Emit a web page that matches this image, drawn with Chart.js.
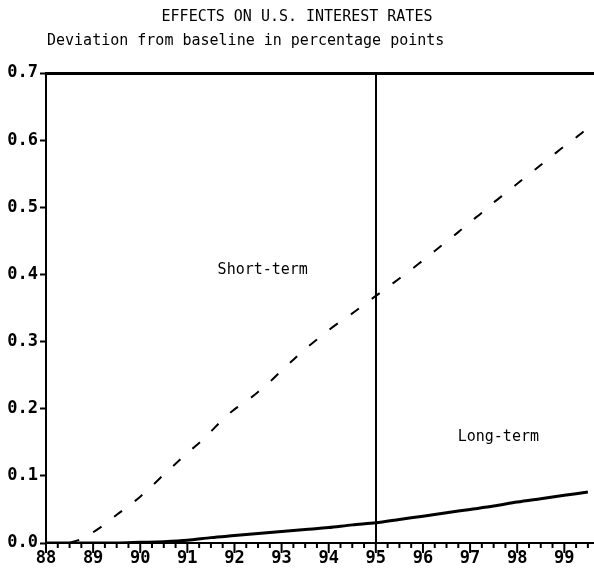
<!DOCTYPE html>
<html>
<head>
<meta charset="utf-8">
<title>Effects on U.S. interest rates</title>
<style>
  html, body { margin: 0; padding: 0; background: #fff; }
  #wrap { width: 594px; height: 585px; }
</style>
</head>
<body>
<div id="wrap"><canvas id="chart" width="594" height="585"></canvas></div>
<script src="https://cdn.jsdelivr.net/npm/chart.js@4/dist/chart.umd.min.js"></script>
<script>
const chartTitle = "EFFECTS ON U.S. INTEREST RATES";
const chartSubtitle = "Deviation from baseline in percentage points";

// short-term rate, quarterly from 88.5
const shortYears = [
  88.5, 88.75, 89, 89.25, 89.5, 89.75, 90, 90.25, 90.5, 90.75,
  91, 91.25, 91.5, 91.75, 92, 92.25, 92.5, 92.75, 93, 93.25,
  93.5, 93.75, 94, 94.25, 94.5, 94.75, 95, 95.25, 95.5, 95.75,
  96, 96.25, 96.5, 96.75, 97, 97.25, 97.5, 97.75, 98, 98.25,
  98.5, 98.75, 99, 99.25, 99.5
];
const shortTerm = [
  0.000, 0.006, 0.016, 0.028, 0.042, 0.055, 0.069, 0.085, 0.102, 0.118,
  0.134, 0.149, 0.166, 0.184, 0.199, 0.211, 0.225, 0.240, 0.257, 0.273,
  0.289, 0.303, 0.317, 0.330, 0.342, 0.355, 0.368, 0.381, 0.394, 0.407,
  0.421, 0.435, 0.449, 0.463, 0.478, 0.492, 0.507, 0.521, 0.535, 0.549,
  0.563, 0.577, 0.591, 0.604, 0.618
];

// long-term rate, half-yearly from 88
const longYears = [
  88, 88.5, 89, 89.5, 90, 90.5, 91, 91.5, 92, 92.5, 93, 93.5,
  94, 94.5, 95, 95.5, 96, 96.5, 97, 97.5, 98, 98.5, 99, 99.5
];
const longTerm = [
  0.000, 0.000, 0.000, 0.000, 0.001, 0.002, 0.004, 0.008, 0.011, 0.014, 0.017, 0.020,
  0.023, 0.027, 0.030, 0.035, 0.040, 0.045, 0.050, 0.055, 0.061, 0.066, 0.071, 0.076
];

const seriesNames = ["Short-term", "Long-term"];
const markerYear = 95;

const monoFont = '"DejaVu Sans Mono", "Liberation Mono", monospace';

const toPoints = (xs, ys) => xs.map((x, i) => ({ x: x, y: ys[i] }));

// titles, quarter tick marks and the in-plot series labels
const decorations = {
  id: "decorations",
  labelSpots: [
    { text: seriesNames[0], x: 92.6, y: 0.407 },
    { text: seriesNames[1], x: 97.6, y: 0.158 }
  ],
  afterDraw(chart) {
    const { ctx, chartArea, scales } = chart;
    const x = scales.x, y = scales.y;
    ctx.save();
    ctx.fillStyle = "#000";
    ctx.strokeStyle = "#000";

    ctx.font = "15px " + monoFont;
    ctx.textBaseline = "middle";
    ctx.textAlign = "center";
    ctx.fillText(chartTitle, 297, 17);
    ctx.textAlign = "left";
    ctx.fillText(chartSubtitle, chartArea.left + 1, 41);

    ctx.lineWidth = 2;
    x.ticks.forEach(t => {
      const px = x.getPixelForValue(t.value);
      const len = Number.isInteger(t.value) ? 10 : 5;
      ctx.beginPath();
      ctx.moveTo(px, chartArea.bottom);
      ctx.lineTo(px, chartArea.bottom + len);
      ctx.stroke();
    });

    ctx.font = "15px " + monoFont;
    ctx.textAlign = "center";
    this.labelSpots.forEach(l => {
      ctx.fillText(l.text, x.getPixelForValue(l.x), y.getPixelForValue(l.y));
    });
    ctx.restore();
  }
};

const ctx = document.getElementById("chart").getContext("2d");
new Chart(ctx, {
  type: "line",
  data: {
    datasets: [
      {
        label: seriesNames[0],
        data: toPoints(shortYears, shortTerm),
        borderColor: "#000",
        borderWidth: 2,
        borderDash: [10, 16],
        pointRadius: 0,
        tension: 0.3,
        fill: false
      },
      {
        label: seriesNames[1],
        data: toPoints(longYears, longTerm),
        borderColor: "#000",
        borderWidth: 3,
        pointRadius: 0,
        tension: 0.3,
        fill: false
      }
    ]
  },
  options: {
    responsive: false,
    animation: false,
    layout: { padding: { top: 73, left: 0, right: 0, bottom: 0 } },
    plugins: {
      legend: { display: false },
      title: { display: false },
      tooltip: { enabled: false }
    },
    scales: {
      x: {
        type: "linear",
        min: 88,
        max: 99.63,
        afterBuildTicks: (scale) => {
          const ticks = [];
          for (let v = 88; v <= 99.5; v += 0.25) ticks.push({ value: v });
          scale.ticks = ticks;
        },
        afterFit: (scale) => { scale.height = 42; },
        ticks: {
          autoSkip: false,
          maxRotation: 0,
          padding: 5,
          color: "#000",
          font: { family: monoFont, size: 17, weight: "bold" },
          callback: (v) => Number.isInteger(v) ? String(v) : ""
        },
        grid: {
          drawTicks: false,
          color: (c) => c.tick && c.tick.value === markerYear ? "#000" : "rgba(0,0,0,0)",
          lineWidth: 2
        },
        border: { display: true, color: "#000", width: 2 }
      },
      y: {
        min: 0,
        max: 0.7,
        afterFit: (scale) => { scale.width = 46; },
        ticks: {
          stepSize: 0.1,
          padding: 2,
          color: "#000",
          font: { family: monoFont, size: 17, weight: "bold" },
          callback: (v) => v.toFixed(1)
        },
        grid: {
          drawTicks: true,
          tickLength: 6,
          tickColor: "#000",
          tickWidth: 2,
          color: (c) => c.tick && Math.abs(c.tick.value - 0.7) < 1e-9 ? "#000" : "rgba(0,0,0,0)",
          lineWidth: 3
        },
        border: { display: true, color: "#000", width: 2 }
      }
    }
  },
  plugins: [decorations]
});
</script>
</body>
</html>
